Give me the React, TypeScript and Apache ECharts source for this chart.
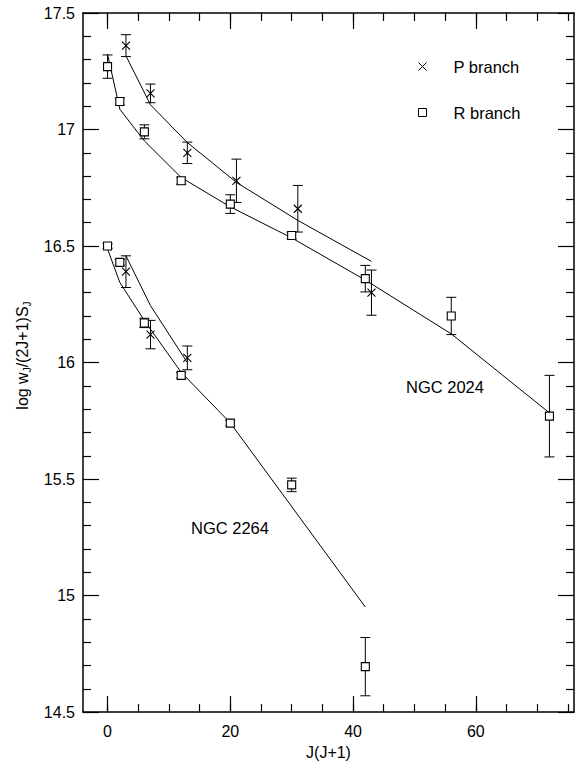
import React, { useEffect, useRef } from 'react';
import * as echarts from 'echarts';

const FONT = '"Liberation Sans", Arial, Helvetica, sans-serif';

// x positions: R branch at J(J+1), P branch offset by +1
const rBranchX = [0, 2, 6, 12, 20, 30, 42, 56, 72];
const pBranchX = [3, 7, 13, 21, 31, 43];

// NGC 2024
const ngc2024R = [17.27, 17.12, 16.99, 16.78, 16.68, 16.545, 16.36, 16.2, 15.77];
const ngc2024RErr = [0.05, 0.015, 0.03, 0.015, 0.04, 0.015, 0.057, 0.08, 0.175];
const ngc2024P = [17.36, 17.155, 16.9, 16.78, 16.66, 16.3];
const ngc2024PErr = [0.047, 0.04, 0.046, 0.093, 0.1, 0.097];

// NGC 2264
const ngc2264RX = [0, 2, 6, 12, 20, 30, 42];
const ngc2264R = [16.5, 16.43, 16.17, 15.945, 15.74, 15.475, 14.695];
const ngc2264RErr = [0.01, 0.012, 0.02, 0.012, 0.012, 0.029, 0.125];
const ngc2264PX = [3, 7, 13];
const ngc2264P = [16.39, 16.12, 16.02];
const ngc2264PErr = [0.068, 0.061, 0.051];

// fitted curves
const fit2024RX = [0, 2, 6, 12, 20, 30, 42, 56, 72];
const fit2024RY = [17.323, 17.087, 16.951, 16.794, 16.668, 16.535, 16.354, 16.123, 15.784];
const fit2024PX = [3, 7, 13, 21, 31, 43];
const fit2024PY = [17.316, 17.106, 16.944, 16.773, 16.61, 16.434];
const fit2264RX = [0, 2, 6, 12, 20, 42];
const fit2264RY = [16.487, 16.344, 16.18, 15.958, 15.741, 14.951];
const fit2264PX = [3, 7, 13];
const fit2264PY = [16.458, 16.244, 16.0];

// axis ticks
const xMajor = [0, 20, 40, 60];
const xMinor = [0, 5, 10, 15, 20, 25, 30, 35, 40, 45, 50, 55, 60, 65, 70, 75];

const CROSS = 'path://M0,0L10,10M0,10L10,0';

const zip = (xs: number[], ys: number[]) => xs.map((x, i) => [x, ys[i]]);
const zip3 = (xs: number[], ys: number[], es: number[]) => xs.map((x, i) => [x, ys[i], es[i]]);

const errSeries = (data: number[][]) => ({
  type: 'custom',
  silent: true,
  z: 2,
  renderItem: (params: any, api: any) => {
    const x = api.value(0);
    const y = api.value(1);
    const e = api.value(2);
    const top = api.coord([x, y + e]);
    const bot = api.coord([x, y - e]);
    const w = 5;
    const style = { stroke: '#000', lineWidth: 1, fill: 'none' };
    return {
      type: 'group',
      children: [
        { type: 'line', shape: { x1: top[0], y1: top[1], x2: bot[0], y2: bot[1] }, style },
        { type: 'line', shape: { x1: top[0] - w, y1: top[1], x2: top[0] + w, y2: top[1] }, style },
        { type: 'line', shape: { x1: bot[0] - w, y1: bot[1], x2: bot[0] + w, y2: bot[1] }, style },
      ],
    };
  },
  encode: { x: 0, y: 1 },
  data,
});

const lineSeries = (xs: number[], ys: number[]) => ({
  type: 'line',
  silent: true,
  symbol: 'none',
  z: 1,
  lineStyle: { color: '#000', width: 1 },
  data: zip(xs, ys),
});

const scatter = (name: string, symbol: string, size: number, xs: number[], ys: number[]) => ({
  type: 'scatter',
  name,
  symbol,
  symbolSize: size,
  z: 3,
  itemStyle: { color: '#fff', borderColor: '#000', borderWidth: 1.1, opacity: 1 },
  data: zip(xs, ys),
});

const axisLineStyle = { color: '#000', width: 1.5 };
const tickStyle = { color: '#000', width: 1.2 };

const xAxisBase = {
  type: 'value',
  min: -4,
  max: 76,
  splitLine: { show: false },
};

const yAxisBase = {
  type: 'value',
  min: 14.5,
  max: 17.5,
  interval: 0.5,
  splitLine: { show: false },
  minorSplitLine: { show: false },
};

export default function App() {
  const ref = useRef<HTMLDivElement>(null);
  useEffect(() => {
    if (!ref.current) return;
    const chart = echarts.init(ref.current, undefined, { renderer: 'svg' });
    const option: any = {
      animation: false,
      backgroundColor: '#fff',
      grid: { left: 83, right: 4, top: 13, bottom: 52, containLabel: false },
      xAxis: [
        {
          ...xAxisBase,
          position: 'bottom',
          axisLine: { show: true, onZero: false, lineStyle: axisLineStyle },
          axisTick: { show: true, inside: true, length: 16, customValues: xMajor, lineStyle: tickStyle },
          axisLabel: { show: true, customValues: xMajor, margin: 11, fontSize: 16, fontFamily: FONT, color: '#000' },
          name: 'J(J+1)',
          nameLocation: 'middle',
          nameGap: 27,
          nameTextStyle: { fontSize: 16, fontFamily: FONT, color: '#000' },
        },
        {
          ...xAxisBase,
          position: 'bottom',
          axisLine: { show: false, onZero: false },
          axisTick: { show: true, inside: true, length: 8, customValues: xMinor, lineStyle: tickStyle },
          axisLabel: { show: false },
        },
        {
          ...xAxisBase,
          position: 'top',
          axisLine: { show: true, onZero: false, lineStyle: axisLineStyle },
          axisTick: { show: true, inside: true, length: 16, customValues: xMajor, lineStyle: tickStyle },
          axisLabel: { show: false },
        },
        {
          ...xAxisBase,
          position: 'top',
          axisLine: { show: false, onZero: false },
          axisTick: { show: true, inside: true, length: 8, customValues: xMinor, lineStyle: tickStyle },
          axisLabel: { show: false },
        },
      ],
      yAxis: [
        {
          ...yAxisBase,
          position: 'left',
          axisLine: { show: true, onZero: false, lineStyle: axisLineStyle },
          axisTick: { show: true, inside: true, length: 16, lineStyle: tickStyle },
          minorTick: { show: true, splitNumber: 5, length: 8, lineStyle: tickStyle },
          axisLabel: { show: true, margin: 8, fontSize: 16, fontFamily: FONT, color: '#000' },
          name: '{a|log w}{b|J}{a|/(2J+1)S}{b|J}',
          nameLocation: 'middle',
          nameRotate: 90,
          nameGap: 45,
          nameTextStyle: {
            padding: [0, 0, 0, 14],
            rich: {
              a: { fontSize: 16, fontFamily: FONT, color: '#000', lineHeight: 20, verticalAlign: 'middle' },
              b: { fontSize: 10, fontFamily: FONT, color: '#000', lineHeight: 20, verticalAlign: 'bottom' },
            },
          },
        },
        {
          ...yAxisBase,
          position: 'right',
          axisLine: { show: true, onZero: false, lineStyle: axisLineStyle },
          axisTick: { show: true, inside: true, length: 16, lineStyle: tickStyle },
          minorTick: { show: true, splitNumber: 5, length: 8, lineStyle: tickStyle },
          axisLabel: { show: false },
        },
      ],
      legend: {
        orient: 'vertical',
        left: 413,
        top: 53,
        itemWidth: 8,
        itemHeight: 8,
        itemGap: 29,
        selectedMode: false,
        textStyle: { fontSize: 16.5, fontFamily: FONT, color: '#000', padding: [0, 0, 0, 22] },
        itemStyle: { color: '#fff', borderColor: '#000', borderWidth: 1 },
        data: [
          { name: 'P branch', icon: CROSS },
          { name: 'R branch', icon: 'rect' },
        ],
      },
      graphic: [
        {
          type: 'text',
          x: 445,
          y: 387,
          style: { text: 'NGC 2024', fontSize: 16.5, fontFamily: FONT, fill: '#000', align: 'center', verticalAlign: 'middle' },
        },
        {
          type: 'text',
          x: 230,
          y: 528,
          style: { text: 'NGC 2264', fontSize: 16.5, fontFamily: FONT, fill: '#000', align: 'center', verticalAlign: 'middle' },
        },
      ],
      series: [
        lineSeries(fit2024RX, fit2024RY),
        lineSeries(fit2024PX, fit2024PY),
        lineSeries(fit2264RX, fit2264RY),
        lineSeries(fit2264PX, fit2264PY),
        errSeries(zip3(rBranchX, ngc2024R, ngc2024RErr)),
        errSeries(zip3(pBranchX, ngc2024P, ngc2024PErr)),
        errSeries(zip3(ngc2264RX, ngc2264R, ngc2264RErr)),
        errSeries(zip3(ngc2264PX, ngc2264P, ngc2264PErr)),
        scatter('R branch', 'rect', 8, rBranchX, ngc2024R),
        scatter('P branch', CROSS, 8, pBranchX, ngc2024P),
        scatter('R branch', 'rect', 8, ngc2264RX, ngc2264R),
        scatter('P branch', CROSS, 8, ngc2264PX, ngc2264P),
      ],
    };
    chart.setOption(option);
    return () => chart.dispose();
  }, []);
  return (
    <div
      ref={ref}
      style={{ position: 'absolute', left: 0, top: 0, width: 578, height: 765, background: '#fff' }}
    />
  );
}
